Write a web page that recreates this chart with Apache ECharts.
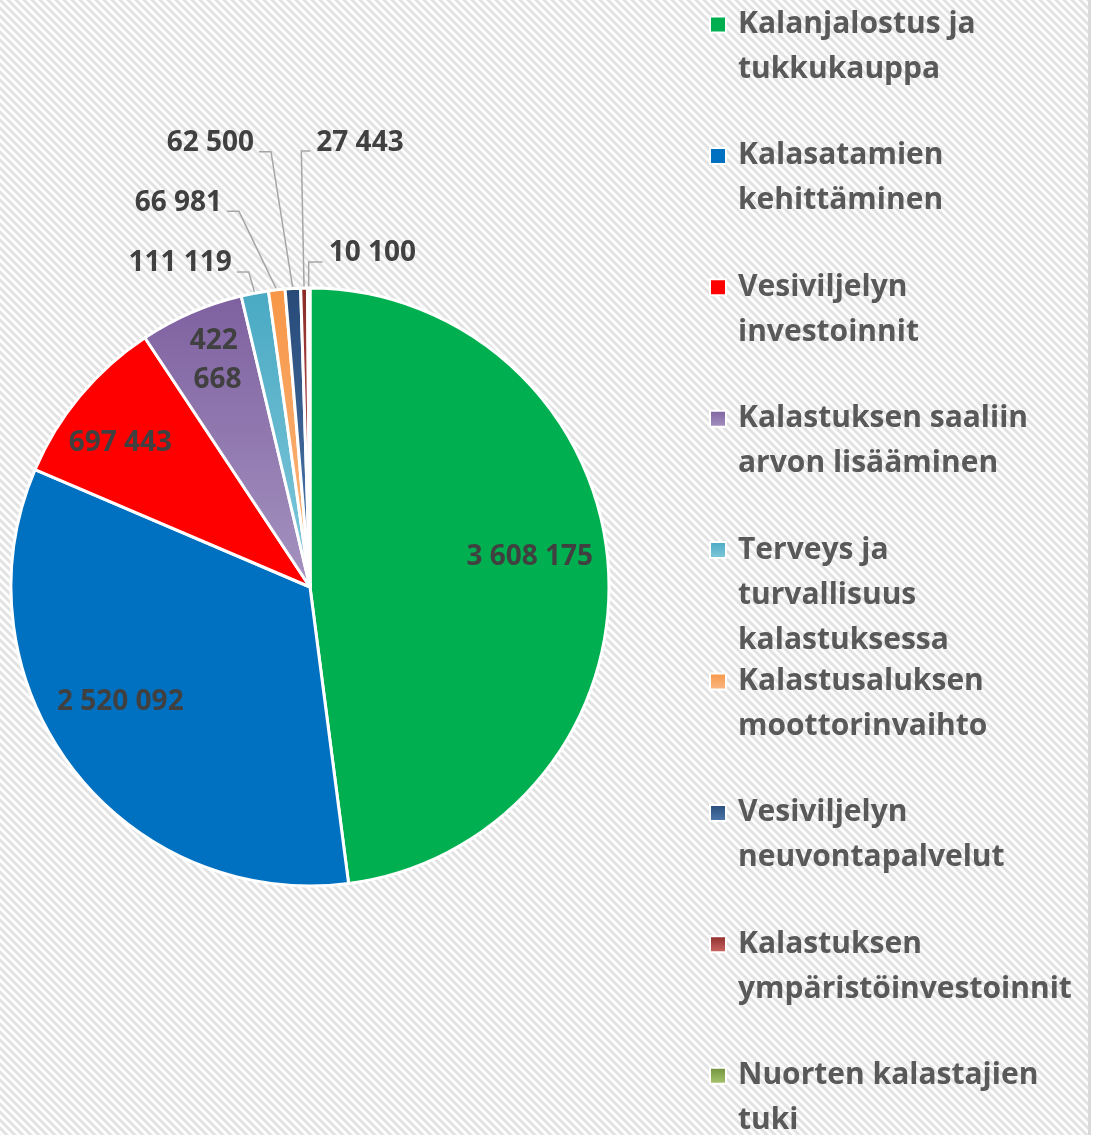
<!DOCTYPE html>
<html>
<head>
<meta charset="utf-8">
<script src="https://cdn.jsdelivr.net/npm/echarts@6/dist/echarts.min.js"></script>
<style>
html, body { margin: 0; padding: 0; background: #fff; }
#main { width: 1098px; height: 1135px; }
</style>
</head>
<body>
<div id="main"></div>
<script>
var categories = [
    'Kalanjalostus ja\ntukkukauppa',
    'Kalasatamien\nkehittäminen',
    'Vesiviljelyn\ninvestoinnit',
    'Kalastuksen saaliin\narvon lisääminen',
    'Terveys ja\nturvallisuus\nkalastuksessa',
    'Kalastusaluksen\nmoottorinvaihto',
    'Vesiviljelyn\nneuvontapalvelut',
    'Kalastuksen\nympäristöinvestoinnit',
    'Nuorten kalastajien\ntuki'
];
var values = [3608175, 2520092, 697443, 422668, 111119, 66981, 62500, 27443, 10100];

// slice colours (top -> bottom of the gradient)
var colorsTop = ['#00b050', '#0070c0', '#ff0000', '#7e61a0', '#49a9c3', '#f79646', '#274a78', '#8c2a28', '#6e8e3a'];
var colorsBottom = ['#00b050', '#0070c0', '#ff0000', '#a593c0', '#82c9db', '#f9b985', '#4f7aae', '#cd6b67', '#aac870'];

var pieCenter = [310, 587];
var pieRadius = 299;
// inside labels: [radius factor, angle shift in deg]
var insideShift = { 0: [0.742, -4.1], 1: [0.742, 5.9], 2: [0.796, -2.6], 3: [0.819, 1.2] };
// outside labels: [length, length2]
var lineLens = { 4: [21.5, 14], 5: [79, 41], 6: [137, 26], 7: [137, 9], 8: [26, 14] };
var flipSide = { 7: true, 8: true };

var fontName = 'Open Sans';

var pieChart = {
    init: function () {
        var that = this
        that.render()
    },
    stripes: function () {
        var c = document.createElement('canvas');
        c.width = 8;
        c.height = 8;
        var ctx = c.getContext('2d');
        ctx.fillStyle = '#ffffff';
        ctx.fillRect(0, 0, 8, 8);
        ctx.strokeStyle = '#e2e2e2';
        ctx.lineWidth = 3;
        [-8, 0, 8].forEach(function (o) {
            ctx.beginPath();
            ctx.moveTo(o - 2, -2);
            ctx.lineTo(o + 10, 10);
            ctx.stroke();
        });
        return c;
    },
    render: function () {
        var myChart = echarts.init(document.getElementById('main'));

        var data = values.map(function (v, i) {
            var item = {
                name: categories[i],
                value: v,
                itemStyle: {
                    color: new echarts.graphic.LinearGradient(0, 0, 0, 1, [
                        {offset: 0, color: colorsTop[i]},
                        {offset: 1, color: colorsBottom[i]}
                    ])
                }
            };
            if (lineLens[i]) {
                // bottom padding lifts the number above the leader line
                item.label = {position: 'outside', padding: [0, 0, 17, 0]};
                item.labelLine = {show: true, length: lineLens[i][0], length2: lineLens[i][1]};
            } else {
                item.label = {position: 'inside'};
                item.labelLine = {show: false};
            }
            if (i === 3) {
                item.label.width = 70;
                item.label.overflow = 'break';
                item.label.lineHeight = 39;
            }
            return item;
        });

        // one legend per item so every entry keeps the same pitch,
        // top padding puts the marker beside the first line
        var legends = categories.map(function (name, i) {
            var n = name.split('\n').length;
            var iconMid = 24.5 + i * 131.4;
            return {
                data: [name],
                orient: 'vertical',
                left: 709,
                top: iconMid - (2 * n - 1) * 22.5,
                padding: 0,
                icon: 'rect',
                itemWidth: 16,
                itemHeight: 16,
                selectedMode: false,
                textStyle: {
                    fontFamily: fontName,
                    fontWeight: 'bold',
                    fontSize: 30,
                    color: '#595959',
                    lineHeight: 45,
                    padding: [(n - 1) * 45, 0, 0, 7],
                    rich: {b: {fontWeight: 'bold'}}
                }
            };
        });

        option = {
            animation: false,
            graphic: [
                {
                    type: 'rect',
                    z: -10,
                    silent: true,
                    shape: {x: 0, y: 0, width: 1088, height: 1135},
                    style: {fill: {image: this.stripes(), repeat: 'repeat'}}
                },
                {
                    type: 'rect',
                    z: -10,
                    silent: true,
                    shape: {x: 1088, y: 0, width: 3, height: 1135},
                    style: {fill: '#d9d9d9'}
                }
            ],
            legend: legends,
            series: [{
                type: 'pie',
                center: pieCenter,
                radius: pieRadius,
                startAngle: 90,
                clockwise: true,
                avoidLabelOverlap: false,
                itemStyle: {
                    borderColor: '#ffffff',
                    borderWidth: 3
                },
                label: {
                    show: true,
                    fontFamily: fontName,
                    fontWeight: 'bold',
                    fontSize: 28,
                    color: '#404040',
                    rich: {b: {fontWeight: 'bold'}},
                    formatter: function (p) {
                        return String(p.value).replace(/\B(?=(\d{3})+(?!\d))/g, ' ');
                    }
                },
                labelLine: {
                    lineStyle: {color: '#a6a6a6', width: 1.5}
                },
                labelLayout: function (params) {
                    var i = params.dataIndex;
                    var r = params.labelRect;
                    if (insideShift[i]) {
                        var lx = r.x + r.width / 2 - pieCenter[0];
                        var ly = r.y + r.height / 2 - pieCenter[1];
                        var a = Math.atan2(lx, -ly) + insideShift[i][1] * Math.PI / 180;
                        var rr = pieRadius * insideShift[i][0];
                        return {x: pieCenter[0] + rr * Math.sin(a), y: pieCenter[1] - rr * Math.cos(a)};
                    }
                    var pts = params.labelLinePoints;
                    if (!pts) {
                        return {};
                    }
                    if (flipSide[i]) {
                        var len2 = pts[1][0] - pts[2][0];
                        pts[2] = [pts[1][0] + len2, pts[1][1]];
                        return {x: pts[2][0] + 6, y: pts[1][1], align: 'left', labelLinePoints: pts};
                    }
                    // short horizontal tail, slanted run down to the slice
                    pts[1] = [pts[2][0] + 12, pts[1][1]];
                    return {labelLinePoints: pts};
                },
                data: data
            }]
        };
        myChart.setOption(option);
        window.onresize = myChart.resize;
    }
}
pieChart.init();
</script>
</body>
</html>
